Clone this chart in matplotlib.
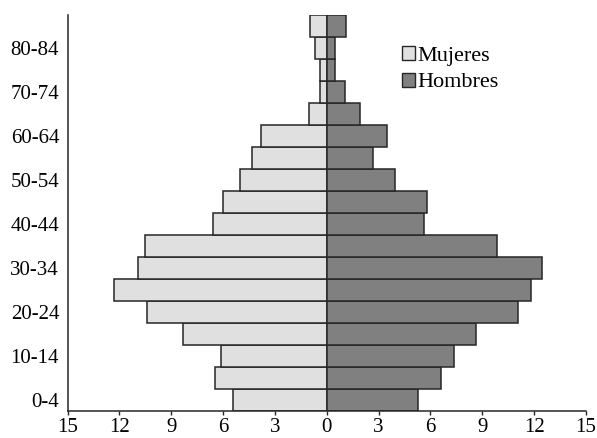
import matplotlib
matplotlib.use("Agg")
import matplotlib.pyplot as plt
from matplotlib.patches import Patch

age_groups = ["0-4", "5-9", "10-14", "15-19", "20-24", "25-29", "30-34", "35-39",
              "40-44", "45-49", "50-54", "55-59", "60-64", "65-69", "70-74",
              "75-79", "80-84", "85+"]
mujeres = [5.4, 6.45, 6.1, 8.3, 10.4, 12.3, 10.9, 10.5, 6.6, 6.0, 5.0, 4.3, 3.8,
           1.0, 0.4, 0.4, 0.7, 0.95]
hombres = [5.3, 6.6, 7.35, 8.65, 11.05, 11.8, 12.45, 9.85, 5.65, 5.8, 3.95, 2.7,
           3.5, 1.9, 1.05, 0.45, 0.45, 1.1]
xticks = [-15, -12, -9, -6, -3, 0, 3, 6, 9, 12, 15]
label_groups = ["0-4", "10-14", "20-24", "30-34", "40-44", "50-54", "60-64", "70-74", "80-84"]

plt.rcParams['font.family'] = ['Liberation Serif', 'DejaVu Serif']

fig = plt.figure(figsize=(5.97, 4.38), dpi=100)
ax = fig.add_axes([67.5/597, 1 - 411/438, (586 - 67.5)/597, (411 - 15)/438])

y = list(range(len(age_groups)))
ax.barh(y, [-v for v in mujeres], height=1.0, color="#e0e0e0", edgecolor="#262626",
        linewidth=1.1, label="Mujeres")
ax.barh(y, hombres, height=1.0, color="#808080", edgecolor="#262626",
        linewidth=1.1, label="Hombres")

ax.set_xlim(-15, 15)
ax.set_ylim(-0.5, len(age_groups) - 0.5)
ax.set_xticks(xticks)
ax.set_xticklabels([str(abs(t)) for t in xticks], fontsize=15)
ytick_pos = [age_groups.index(g) for g in label_groups]
ax.set_yticks(ytick_pos)
ax.set_yticklabels(label_groups, fontsize=15)
ax.tick_params(axis='y', length=0, pad=6)
ax.tick_params(axis='x', length=3, width=1, direction='out', pad=2, color="#262626")
for s in ["top", "right"]:
    ax.spines[s].set_visible(False)
for s in ["left", "bottom"]:
    ax.spines[s].set_color("#262626")
    ax.spines[s].set_linewidth(1.1)

handles = [Patch(facecolor="#e0e0e0", edgecolor="#262626", linewidth=1.0, label="Mujeres"),
           Patch(facecolor="#808080", edgecolor="#262626", linewidth=1.0, label="Hombres")]
leg = fig.legend(handles=handles, loc="upper left", bbox_to_anchor=(402/597, 1 - 46/438),
                 frameon=False, fontsize=16, handlelength=0.6, handleheight=0.6,
                 handletextpad=0.1, labelspacing=0.3, borderpad=0, borderaxespad=0)

fig.savefig("out.png", dpi=100)
